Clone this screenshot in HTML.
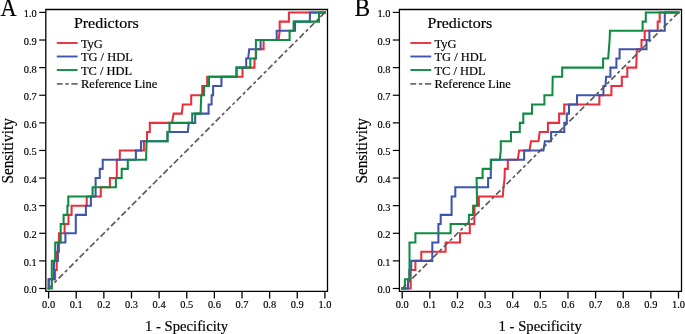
<!DOCTYPE html>
<html><head><meta charset="utf-8"><style>
html,body{margin:0;padding:0;background:#fff;width:685px;height:334px;overflow:hidden}
svg{display:block;will-change:transform}
text{font-family:"Liberation Serif",serif;fill:#000;font-variant-ligatures:none;font-feature-settings:"liga" 0;stroke:#000;stroke-width:0.18px}
.tk{font-size:11.4px}
.at{font-size:15.3px}
.lt{font-size:14.6px}
.lg{font-size:12.9px}
.pl{font-size:25px}
.yt{font-size:16px}
</style></head><body>
<svg width="685" height="334" viewBox="0 0 685 334">
<rect width="685" height="334" fill="#fff"/>
<path d="M45.80,9.5 H327.50 V291.4 H45.80 Z" fill="none" stroke="#000" stroke-width="1.3"/>
<line x1="39.20" y1="288.50" x2="45.80" y2="288.50" stroke="#000" stroke-width="1.2"/>
<text x="36.80" y="293.40" text-anchor="end" class="tk" textLength="13.0" lengthAdjust="spacingAndGlyphs">0.0</text>
<line x1="39.20" y1="260.89" x2="45.80" y2="260.89" stroke="#000" stroke-width="1.2"/>
<text x="36.80" y="265.79" text-anchor="end" class="tk" textLength="13.0" lengthAdjust="spacingAndGlyphs">0.1</text>
<line x1="39.20" y1="233.28" x2="45.80" y2="233.28" stroke="#000" stroke-width="1.2"/>
<text x="36.80" y="238.18" text-anchor="end" class="tk" textLength="13.0" lengthAdjust="spacingAndGlyphs">0.2</text>
<line x1="39.20" y1="205.67" x2="45.80" y2="205.67" stroke="#000" stroke-width="1.2"/>
<text x="36.80" y="210.57" text-anchor="end" class="tk" textLength="13.0" lengthAdjust="spacingAndGlyphs">0.3</text>
<line x1="39.20" y1="178.06" x2="45.80" y2="178.06" stroke="#000" stroke-width="1.2"/>
<text x="36.80" y="182.96" text-anchor="end" class="tk" textLength="13.0" lengthAdjust="spacingAndGlyphs">0.4</text>
<line x1="39.20" y1="150.46" x2="45.80" y2="150.46" stroke="#000" stroke-width="1.2"/>
<text x="36.80" y="155.36" text-anchor="end" class="tk" textLength="13.0" lengthAdjust="spacingAndGlyphs">0.5</text>
<line x1="39.20" y1="122.85" x2="45.80" y2="122.85" stroke="#000" stroke-width="1.2"/>
<text x="36.80" y="127.75" text-anchor="end" class="tk" textLength="13.0" lengthAdjust="spacingAndGlyphs">0.6</text>
<line x1="39.20" y1="95.24" x2="45.80" y2="95.24" stroke="#000" stroke-width="1.2"/>
<text x="36.80" y="100.14" text-anchor="end" class="tk" textLength="13.0" lengthAdjust="spacingAndGlyphs">0.7</text>
<line x1="39.20" y1="67.63" x2="45.80" y2="67.63" stroke="#000" stroke-width="1.2"/>
<text x="36.80" y="72.53" text-anchor="end" class="tk" textLength="13.0" lengthAdjust="spacingAndGlyphs">0.8</text>
<line x1="39.20" y1="40.02" x2="45.80" y2="40.02" stroke="#000" stroke-width="1.2"/>
<text x="36.80" y="44.92" text-anchor="end" class="tk" textLength="13.0" lengthAdjust="spacingAndGlyphs">0.9</text>
<line x1="39.20" y1="12.41" x2="45.80" y2="12.41" stroke="#000" stroke-width="1.2"/>
<text x="36.80" y="17.31" text-anchor="end" class="tk" textLength="13.0" lengthAdjust="spacingAndGlyphs">1.0</text>
<line x1="48.60" y1="291.4" x2="48.60" y2="298.5" stroke="#000" stroke-width="1.3"/>
<text x="48.60" y="308.2" text-anchor="middle" class="tk" textLength="13.0" lengthAdjust="spacingAndGlyphs">0.0</text>
<line x1="76.23" y1="291.4" x2="76.23" y2="298.5" stroke="#000" stroke-width="1.3"/>
<text x="76.23" y="308.2" text-anchor="middle" class="tk" textLength="13.0" lengthAdjust="spacingAndGlyphs">0.1</text>
<line x1="103.86" y1="291.4" x2="103.86" y2="298.5" stroke="#000" stroke-width="1.3"/>
<text x="103.86" y="308.2" text-anchor="middle" class="tk" textLength="13.0" lengthAdjust="spacingAndGlyphs">0.2</text>
<line x1="131.49" y1="291.4" x2="131.49" y2="298.5" stroke="#000" stroke-width="1.3"/>
<text x="131.49" y="308.2" text-anchor="middle" class="tk" textLength="13.0" lengthAdjust="spacingAndGlyphs">0.3</text>
<line x1="159.12" y1="291.4" x2="159.12" y2="298.5" stroke="#000" stroke-width="1.3"/>
<text x="159.12" y="308.2" text-anchor="middle" class="tk" textLength="13.0" lengthAdjust="spacingAndGlyphs">0.4</text>
<line x1="186.75" y1="291.4" x2="186.75" y2="298.5" stroke="#000" stroke-width="1.3"/>
<text x="186.75" y="308.2" text-anchor="middle" class="tk" textLength="13.0" lengthAdjust="spacingAndGlyphs">0.5</text>
<line x1="214.38" y1="291.4" x2="214.38" y2="298.5" stroke="#000" stroke-width="1.3"/>
<text x="214.38" y="308.2" text-anchor="middle" class="tk" textLength="13.0" lengthAdjust="spacingAndGlyphs">0.6</text>
<line x1="242.01" y1="291.4" x2="242.01" y2="298.5" stroke="#000" stroke-width="1.3"/>
<text x="242.01" y="308.2" text-anchor="middle" class="tk" textLength="13.0" lengthAdjust="spacingAndGlyphs">0.7</text>
<line x1="269.64" y1="291.4" x2="269.64" y2="298.5" stroke="#000" stroke-width="1.3"/>
<text x="269.64" y="308.2" text-anchor="middle" class="tk" textLength="13.0" lengthAdjust="spacingAndGlyphs">0.8</text>
<line x1="297.27" y1="291.4" x2="297.27" y2="298.5" stroke="#000" stroke-width="1.3"/>
<text x="297.27" y="308.2" text-anchor="middle" class="tk" textLength="13.0" lengthAdjust="spacingAndGlyphs">0.9</text>
<line x1="324.90" y1="291.4" x2="324.90" y2="298.5" stroke="#000" stroke-width="1.3"/>
<text x="324.90" y="308.2" text-anchor="middle" class="tk" textLength="13.0" lengthAdjust="spacingAndGlyphs">1.0</text>
<text x="145.00" y="331.3" class="at" textLength="83.2" lengthAdjust="spacingAndGlyphs">1 - Specificity</text>
<text transform="translate(12.90,183.6) rotate(-90)" x="0" y="0" class="yt" textLength="65.5" lengthAdjust="spacingAndGlyphs">Sensitivity</text>
<text x="0.50" y="16.1" class="pl" textLength="16.1" lengthAdjust="spacingAndGlyphs">A</text>
<text x="73.90" y="27.7" class="lt" textLength="64.8" lengthAdjust="spacingAndGlyphs">Predictors</text>
<line x1="56.80" y1="43.0" x2="77.60" y2="43.0" stroke="#e8303c" stroke-width="1.9"/>
<line x1="56.80" y1="56.5" x2="77.60" y2="56.5" stroke="#3f55ad" stroke-width="1.9"/>
<line x1="56.80" y1="70.0" x2="77.60" y2="70.0" stroke="#0f8c42" stroke-width="1.9"/>
<line x1="56.80" y1="83.9" x2="62.60" y2="83.9" stroke="#5c5c5c" stroke-width="1.6"/>
<line x1="65.30" y1="83.9" x2="68.70" y2="83.9" stroke="#5c5c5c" stroke-width="1.6"/>
<line x1="71.40" y1="83.9" x2="77.60" y2="83.9" stroke="#5c5c5c" stroke-width="1.6"/>
<text x="80.90" y="47.8" class="lg" textLength="21.95" lengthAdjust="spacingAndGlyphs">TyG</text>
<text x="80.90" y="61.3" class="lg" textLength="51.87" lengthAdjust="spacingAndGlyphs">TG / HDL</text>
<text x="80.90" y="74.8" class="lg" textLength="51.18" lengthAdjust="spacingAndGlyphs">TC / HDL</text>
<text x="80.90" y="88.3" class="lg" textLength="76.38" lengthAdjust="spacingAndGlyphs">Reference Line</text>
<path d="M399.40,9.5 H681.50 V291.4 H399.40 Z" fill="none" stroke="#000" stroke-width="1.3"/>
<line x1="392.80" y1="288.50" x2="399.40" y2="288.50" stroke="#000" stroke-width="1.2"/>
<text x="390.40" y="293.40" text-anchor="end" class="tk" textLength="13.0" lengthAdjust="spacingAndGlyphs">0.0</text>
<line x1="392.80" y1="260.89" x2="399.40" y2="260.89" stroke="#000" stroke-width="1.2"/>
<text x="390.40" y="265.79" text-anchor="end" class="tk" textLength="13.0" lengthAdjust="spacingAndGlyphs">0.1</text>
<line x1="392.80" y1="233.28" x2="399.40" y2="233.28" stroke="#000" stroke-width="1.2"/>
<text x="390.40" y="238.18" text-anchor="end" class="tk" textLength="13.0" lengthAdjust="spacingAndGlyphs">0.2</text>
<line x1="392.80" y1="205.67" x2="399.40" y2="205.67" stroke="#000" stroke-width="1.2"/>
<text x="390.40" y="210.57" text-anchor="end" class="tk" textLength="13.0" lengthAdjust="spacingAndGlyphs">0.3</text>
<line x1="392.80" y1="178.06" x2="399.40" y2="178.06" stroke="#000" stroke-width="1.2"/>
<text x="390.40" y="182.96" text-anchor="end" class="tk" textLength="13.0" lengthAdjust="spacingAndGlyphs">0.4</text>
<line x1="392.80" y1="150.46" x2="399.40" y2="150.46" stroke="#000" stroke-width="1.2"/>
<text x="390.40" y="155.36" text-anchor="end" class="tk" textLength="13.0" lengthAdjust="spacingAndGlyphs">0.5</text>
<line x1="392.80" y1="122.85" x2="399.40" y2="122.85" stroke="#000" stroke-width="1.2"/>
<text x="390.40" y="127.75" text-anchor="end" class="tk" textLength="13.0" lengthAdjust="spacingAndGlyphs">0.6</text>
<line x1="392.80" y1="95.24" x2="399.40" y2="95.24" stroke="#000" stroke-width="1.2"/>
<text x="390.40" y="100.14" text-anchor="end" class="tk" textLength="13.0" lengthAdjust="spacingAndGlyphs">0.7</text>
<line x1="392.80" y1="67.63" x2="399.40" y2="67.63" stroke="#000" stroke-width="1.2"/>
<text x="390.40" y="72.53" text-anchor="end" class="tk" textLength="13.0" lengthAdjust="spacingAndGlyphs">0.8</text>
<line x1="392.80" y1="40.02" x2="399.40" y2="40.02" stroke="#000" stroke-width="1.2"/>
<text x="390.40" y="44.92" text-anchor="end" class="tk" textLength="13.0" lengthAdjust="spacingAndGlyphs">0.9</text>
<line x1="392.80" y1="12.41" x2="399.40" y2="12.41" stroke="#000" stroke-width="1.2"/>
<text x="390.40" y="17.31" text-anchor="end" class="tk" textLength="13.0" lengthAdjust="spacingAndGlyphs">1.0</text>
<line x1="402.20" y1="291.4" x2="402.20" y2="298.5" stroke="#000" stroke-width="1.3"/>
<text x="402.20" y="308.2" text-anchor="middle" class="tk" textLength="13.0" lengthAdjust="spacingAndGlyphs">0.0</text>
<line x1="429.83" y1="291.4" x2="429.83" y2="298.5" stroke="#000" stroke-width="1.3"/>
<text x="429.83" y="308.2" text-anchor="middle" class="tk" textLength="13.0" lengthAdjust="spacingAndGlyphs">0.1</text>
<line x1="457.46" y1="291.4" x2="457.46" y2="298.5" stroke="#000" stroke-width="1.3"/>
<text x="457.46" y="308.2" text-anchor="middle" class="tk" textLength="13.0" lengthAdjust="spacingAndGlyphs">0.2</text>
<line x1="485.09" y1="291.4" x2="485.09" y2="298.5" stroke="#000" stroke-width="1.3"/>
<text x="485.09" y="308.2" text-anchor="middle" class="tk" textLength="13.0" lengthAdjust="spacingAndGlyphs">0.3</text>
<line x1="512.72" y1="291.4" x2="512.72" y2="298.5" stroke="#000" stroke-width="1.3"/>
<text x="512.72" y="308.2" text-anchor="middle" class="tk" textLength="13.0" lengthAdjust="spacingAndGlyphs">0.4</text>
<line x1="540.35" y1="291.4" x2="540.35" y2="298.5" stroke="#000" stroke-width="1.3"/>
<text x="540.35" y="308.2" text-anchor="middle" class="tk" textLength="13.0" lengthAdjust="spacingAndGlyphs">0.5</text>
<line x1="567.98" y1="291.4" x2="567.98" y2="298.5" stroke="#000" stroke-width="1.3"/>
<text x="567.98" y="308.2" text-anchor="middle" class="tk" textLength="13.0" lengthAdjust="spacingAndGlyphs">0.6</text>
<line x1="595.61" y1="291.4" x2="595.61" y2="298.5" stroke="#000" stroke-width="1.3"/>
<text x="595.61" y="308.2" text-anchor="middle" class="tk" textLength="13.0" lengthAdjust="spacingAndGlyphs">0.7</text>
<line x1="623.24" y1="291.4" x2="623.24" y2="298.5" stroke="#000" stroke-width="1.3"/>
<text x="623.24" y="308.2" text-anchor="middle" class="tk" textLength="13.0" lengthAdjust="spacingAndGlyphs">0.8</text>
<line x1="650.87" y1="291.4" x2="650.87" y2="298.5" stroke="#000" stroke-width="1.3"/>
<text x="650.87" y="308.2" text-anchor="middle" class="tk" textLength="13.0" lengthAdjust="spacingAndGlyphs">0.9</text>
<line x1="678.50" y1="291.4" x2="678.50" y2="298.5" stroke="#000" stroke-width="1.3"/>
<text x="678.50" y="308.2" text-anchor="middle" class="tk" textLength="13.0" lengthAdjust="spacingAndGlyphs">1.0</text>
<text x="498.60" y="331.3" class="at" textLength="83.2" lengthAdjust="spacingAndGlyphs">1 - Specificity</text>
<text transform="translate(366.50,183.6) rotate(-90)" x="0" y="0" class="yt" textLength="65.5" lengthAdjust="spacingAndGlyphs">Sensitivity</text>
<text x="354.60" y="16.1" class="pl" textLength="15.7" lengthAdjust="spacingAndGlyphs">B</text>
<text x="427.50" y="27.7" class="lt" textLength="64.8" lengthAdjust="spacingAndGlyphs">Predictors</text>
<line x1="410.40" y1="43.0" x2="431.20" y2="43.0" stroke="#e8303c" stroke-width="1.9"/>
<line x1="410.40" y1="56.5" x2="431.20" y2="56.5" stroke="#3f55ad" stroke-width="1.9"/>
<line x1="410.40" y1="70.0" x2="431.20" y2="70.0" stroke="#0f8c42" stroke-width="1.9"/>
<line x1="410.40" y1="83.9" x2="416.20" y2="83.9" stroke="#5c5c5c" stroke-width="1.6"/>
<line x1="418.90" y1="83.9" x2="422.30" y2="83.9" stroke="#5c5c5c" stroke-width="1.6"/>
<line x1="425.00" y1="83.9" x2="431.20" y2="83.9" stroke="#5c5c5c" stroke-width="1.6"/>
<text x="434.50" y="47.8" class="lg" textLength="21.95" lengthAdjust="spacingAndGlyphs">TyG</text>
<text x="434.50" y="61.3" class="lg" textLength="51.87" lengthAdjust="spacingAndGlyphs">TG / HDL</text>
<text x="434.50" y="74.8" class="lg" textLength="51.18" lengthAdjust="spacingAndGlyphs">TC / HDL</text>
<text x="434.50" y="88.3" class="lg" textLength="76.38" lengthAdjust="spacingAndGlyphs">Reference Line</text>
<polyline points="48.60,288.50 48.60,279.30 55.10,279.30 55.10,270.09 56.70,270.09 56.70,251.69 59.00,251.69 59.00,233.28 64.60,233.28 64.60,224.08 68.50,224.08 68.50,214.88 71.60,214.88 71.60,205.67 86.70,205.67 86.70,196.47 100.80,196.47 100.80,187.27 109.90,187.27 109.90,178.06 116.80,178.06 116.80,159.66 119.80,159.66 119.80,150.46 143.90,150.46 143.90,141.25 147.00,141.25 147.00,132.05 149.80,132.05 149.80,122.85 172.00,122.85 173.60,113.64 181.80,113.64 182.80,104.44 191.20,104.44 191.20,95.24 202.20,95.24 202.20,86.03 207.20,86.03 207.20,76.83 242.50,76.83 242.50,67.63 254.50,67.63 254.50,58.43 255.90,58.43 255.90,49.22 263.60,49.22 263.60,40.02 278.60,40.02 279.70,30.82 279.70,21.61 288.90,21.61 288.90,12.41 324.90,12.41" fill="none" stroke="#e8303c" stroke-width="2.05" stroke-linejoin="miter" stroke-linecap="square"/>
<polyline points="48.80,288.50 48.80,279.30 54.00,279.30 54.00,260.89 57.90,260.89 57.90,242.49 65.40,242.49 65.40,233.28 75.80,233.28 75.80,214.88 85.90,214.88 85.90,205.67 90.90,205.67 90.90,196.47 95.60,196.47 95.60,178.06 99.80,178.06 99.80,168.86 102.70,168.86 102.70,159.66 135.90,159.66 135.90,150.46 141.00,150.46 141.00,141.25 167.50,141.25 167.50,132.05 187.80,132.05 188.80,122.85 195.20,122.85 195.20,113.64 208.60,113.64 208.60,104.44 211.60,104.44 211.60,95.24 213.10,95.24 213.10,86.03 221.40,86.03 221.40,76.83 236.50,76.83 236.50,67.63 246.20,67.63 246.20,58.43 248.20,58.43 249.20,49.22 260.60,49.22 260.60,40.02 276.70,40.02 276.70,30.82 295.00,30.82 295.00,21.61 309.90,21.61 309.90,12.41 324.90,12.41" fill="none" stroke="#3f55ad" stroke-width="2.05" stroke-linejoin="miter" stroke-linecap="square"/>
<polyline points="48.60,288.50 51.80,288.50 51.80,260.89 55.20,260.89 55.20,242.49 60.70,242.49 60.70,224.08 63.60,224.08 63.60,214.88 67.40,214.88 67.40,205.67 68.30,205.67 68.30,196.47 92.60,196.47 92.60,187.27 115.90,187.27 115.90,178.06 121.70,178.06 121.70,168.86 127.80,168.86 127.80,159.66 146.10,159.66 146.50,141.25 167.50,141.25 167.50,132.05 169.50,132.05 169.50,122.85 192.20,122.85 192.20,113.64 200.60,113.64 201.20,95.24 204.00,95.24 204.00,86.03 209.00,86.03 209.00,76.83 236.50,76.83 236.50,67.63 250.30,67.63 250.30,58.43 255.90,58.43 255.90,40.02 289.60,40.02 289.60,30.82 293.60,30.82 293.60,21.61 319.00,21.61 319.00,12.41 324.90,12.41" fill="none" stroke="#0f8c42" stroke-width="2.05" stroke-linejoin="miter" stroke-linecap="square"/>
<polyline points="402.20,288.50 410.70,288.50 410.70,270.09 415.40,270.09 415.40,260.89 421.30,260.89 421.30,251.69 445.60,251.69 445.60,242.49 460.00,242.49 460.00,233.28 469.80,233.28 469.80,224.08 474.30,224.08 474.60,205.67 479.00,205.67 478.80,196.47 502.80,196.47 503.50,187.27 504.60,178.06 504.80,168.86 507.80,168.86 507.80,159.66 517.70,159.66 519.20,150.46 529.50,150.46 531.00,141.25 538.50,141.25 539.70,132.05 547.90,132.05 547.90,122.85 559.10,122.85 559.10,113.64 564.20,113.64 564.20,104.44 599.40,104.44 599.40,95.24 611.40,95.24 611.40,86.03 621.80,86.03 621.80,76.83 627.30,76.83 627.30,67.63 636.20,67.63 636.90,49.22 641.50,49.22 641.50,40.02 644.70,40.02 644.70,30.82 657.70,30.82 657.70,21.61 659.70,21.61 659.70,12.41 678.50,12.41" fill="none" stroke="#e8303c" stroke-width="2.05" stroke-linejoin="miter" stroke-linecap="square"/>
<polyline points="402.20,288.50 408.00,288.50 408.00,279.30 409.40,279.30 409.40,270.09 411.20,270.09 411.20,260.89 432.30,260.89 432.30,242.49 438.40,242.49 438.40,224.08 440.70,224.08 440.70,214.88 451.60,214.88 451.60,196.47 455.30,196.47 455.30,187.27 488.10,187.27 488.10,178.06 490.80,178.06 490.80,159.66 524.10,159.66 524.10,150.46 543.40,150.46 544.90,141.25 551.10,141.25 551.10,132.05 564.30,132.05 564.30,122.85 566.80,122.85 566.80,113.64 569.00,113.64 569.00,104.44 577.00,104.44 577.00,95.24 603.40,95.24 603.40,86.03 605.50,86.03 606.10,76.83 610.40,76.83 610.40,67.63 616.40,67.63 616.40,58.43 619.60,58.43 619.60,49.22 646.50,49.22 646.50,40.02 649.40,40.02 649.40,30.82 664.80,30.82 664.80,12.41 678.50,12.41" fill="none" stroke="#3f55ad" stroke-width="2.05" stroke-linejoin="miter" stroke-linecap="square"/>
<polyline points="402.20,288.50 404.90,288.50 404.90,279.30 409.50,279.30 409.50,242.49 415.40,242.49 415.40,233.28 450.60,233.28 450.60,224.08 468.90,224.08 468.90,214.88 473.10,214.88 473.10,205.67 477.10,205.67 476.60,178.06 482.60,178.06 482.60,168.86 491.10,168.86 491.10,159.66 499.80,159.66 500.80,150.46 500.80,141.25 511.00,141.25 511.00,132.05 519.80,132.05 519.80,122.85 523.30,122.85 523.30,113.64 532.00,113.64 532.00,104.44 544.40,104.44 544.40,95.24 552.40,95.24 552.70,76.83 562.20,76.83 562.20,67.63 603.10,67.63 603.10,58.43 608.20,58.43 608.90,49.22 609.60,40.02 610.00,30.82 642.60,30.82 642.60,21.61 645.80,21.61 645.80,12.41 678.50,12.41" fill="none" stroke="#0f8c42" stroke-width="2.05" stroke-linejoin="miter" stroke-linecap="square"/>
<line x1="48.60" y1="288.5" x2="324.90" y2="12.41" stroke="#5c5c5c" stroke-width="1.7" stroke-dasharray="6.1 2.75 3.2 2.75" stroke-dashoffset="0.5"/>
<line x1="402.20" y1="288.5" x2="678.50" y2="12.41" stroke="#5c5c5c" stroke-width="1.7" stroke-dasharray="6.1 2.75 3.2 2.75" stroke-dashoffset="0.5"/>
</svg>
</body></html>
